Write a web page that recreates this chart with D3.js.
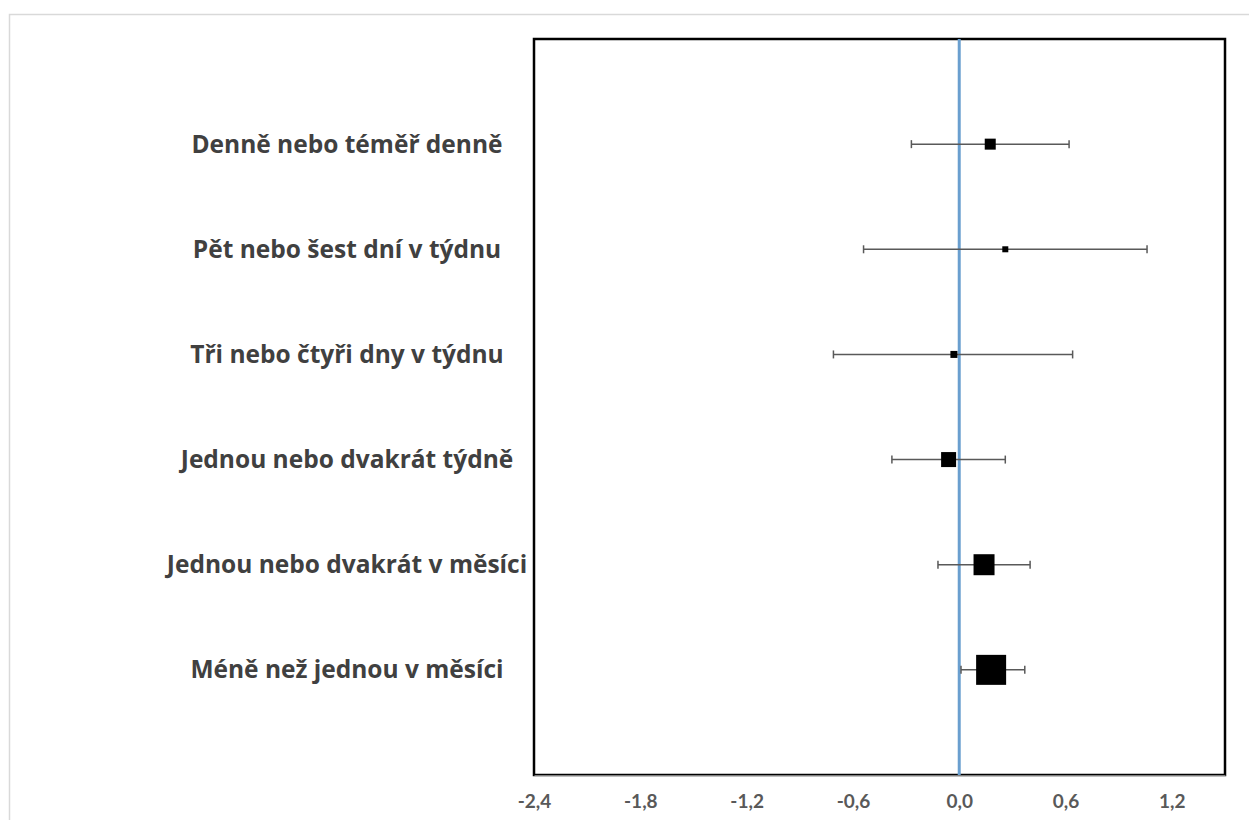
<!DOCTYPE html>
<html><head><meta charset="utf-8">
<script src="https://cdn.jsdelivr.net/npm/d3@7/dist/d3.min.js"></script>
<style>body{margin:0;background:#fff}</style>
</head><body><svg id="c" width="1249" height="820"></svg>
<script>
const categories = ["Denně nebo téměř denně","Pět nebo šest dní v týdnu","Tři nebo čtyři dny v týdnu","Jednou nebo dvakrát týdně","Jednou nebo dvakrát v měsíci","Méně než jednou v měsíci"];
const estimates = [0.175, 0.26, -0.03, -0.06, 0.14, 0.18];
const lower = [-0.27, -0.54, -0.71, -0.38, -0.12, 0.01];
const upper = [0.62, 1.06, 0.64, 0.26, 0.40, 0.37];
const weights = [11, 6, 7, 15, 21, 30];
const tickValues = [-2.4, -1.8, -1.2, -0.6, 0.0, 0.6, 1.2];

const svg = d3.select("#c");
const L = 534, R = 1225, T = 39, B = 775;
svg.append("rect").attr("x",9.5).attr("y",14.5).attr("width",1260).attr("height",820).attr("fill","none").attr("stroke","#d9d9d9").attr("stroke-width",1.5);

const x = d3.scaleLinear().domain([-2.4, 1.5]).range([L, R]);
const y = d3.scaleLinear().domain([0, 7]).range([T, B]);

svg.append("rect").attr("x",L).attr("y",T).attr("width",R-L).attr("height",B-T).attr("fill","none").attr("stroke","#000").attr("stroke-width",2.5);

const ax = d3.axisBottom(x).tickValues(tickValues).tickSize(0).tickFormat(d => d3.format(".1f")(d).replace(".", ",").replace("−","-"));
const g = svg.append("g").attr("transform",`translate(0,${B})`).call(ax);
g.select(".domain").attr("stroke","#7f7f7f").attr("stroke-width",1);
g.selectAll("text").attr("dy",0).attr("y",33).attr("fill","#595959").attr("font-family","Lato, 'Open Sans', sans-serif").attr("font-weight","bold").attr("font-size","19px");

svg.append("line").attr("x1",x(0)).attr("x2",x(0)).attr("y1",T).attr("y2",B).attr("stroke","#6a9fcf").attr("stroke-width",3);

const rows = svg.append("g").selectAll("g").data(categories).join("g");
rows.append("line").attr("x1",(d,i)=>x(lower[i])).attr("x2",(d,i)=>x(upper[i])).attr("y1",(d,i)=>y(i+1)).attr("y2",(d,i)=>y(i+1)).attr("stroke","#595959").attr("stroke-width",1.5);
rows.append("line").attr("x1",(d,i)=>x(lower[i])).attr("x2",(d,i)=>x(lower[i])).attr("y1",(d,i)=>y(i+1)-4).attr("y2",(d,i)=>y(i+1)+4).attr("stroke","#595959").attr("stroke-width",1.5);
rows.append("line").attr("x1",(d,i)=>x(upper[i])).attr("x2",(d,i)=>x(upper[i])).attr("y1",(d,i)=>y(i+1)-4).attr("y2",(d,i)=>y(i+1)+4).attr("stroke","#595959").attr("stroke-width",1.5);
rows.append("rect").attr("x",(d,i)=>x(estimates[i])-weights[i]/2).attr("y",(d,i)=>y(i+1)-weights[i]/2).attr("width",(d,i)=>weights[i]).attr("height",(d,i)=>weights[i]).attr("fill","#000");
rows.append("text").attr("x",347).attr("y",(d,i)=>y(i+1)).attr("dy","0.35em").attr("text-anchor","middle").attr("fill","#404040").attr("font-family","'Open Sans', Lato, sans-serif").attr("font-weight","bold").attr("font-size","24.5px").text(d=>d);
</script></body></html>
